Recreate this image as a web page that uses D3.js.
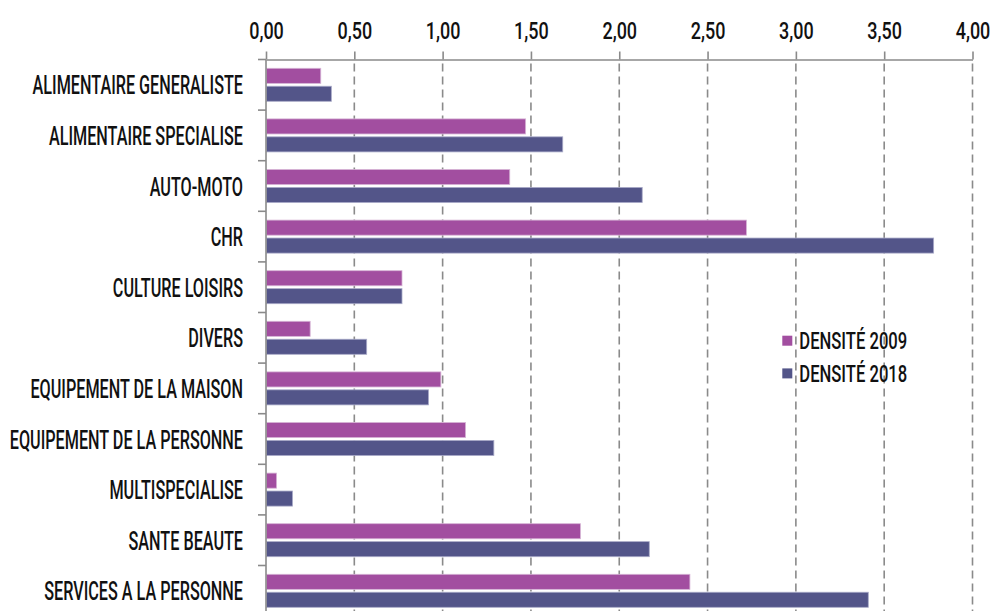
<!DOCTYPE html>
<html><head><meta charset="utf-8">
<script src="https://cdn.jsdelivr.net/npm/d3@7"></script>
<style>body{margin:0;background:#fff} svg{display:block}</style>
</head><body><svg id="c" width="994" height="611"></svg>
<script>
const categories = ["ALIMENTAIRE GENERALISTE","ALIMENTAIRE SPECIALISE","AUTO-MOTO","CHR","CULTURE LOISIRS","DIVERS","EQUIPEMENT DE LA MAISON","EQUIPEMENT DE LA PERSONNE","MULTISPECIALISE","SANTE BEAUTE","SERVICES A LA PERSONNE"];
const density2009 = [0.31,1.47,1.38,2.72,0.77,0.25,0.99,1.13,0.06,1.78,2.40];
const density2018 = [0.37,1.68,2.13,3.78,0.77,0.57,0.92,1.29,0.15,2.17,3.41];
const seriesNames = ["DENSITÉ 2009","DENSITÉ 2018"];
const seriesColors = ["#a24ea0","#535589"];
const seriesStrokes = ["#d6b3d5","#a9aac8"];
const xTicks = [0,0.5,1,1.5,2,2.5,3,3.5,4];

const FONT = "Roboto";
const svg = d3.select("#c");
const axisColor = "#8a8a8a";

const x = d3.scaleLinear().domain([0,4]).range([266,972.5]);
const y = d3.scaleBand().domain(categories).range([59.5, 59.5 + 50.6*categories.length]).padding(0);
const ySub = d3.scaleBand().domain(seriesNames).range([8.8, y.bandwidth()-8.8]).paddingInner(0.16);

const loc = d3.formatLocale({decimal:",", thousands:" ", grouping:[3], currency:["","€"]});
const fmt = loc.format(".2f");

function measure(str, size, weight){
  const t = svg.append("text").attr("font-family",FONT).attr("font-size",size).attr("font-weight",weight).text(str);
  const w = t.node().getComputedTextLength(); t.remove(); return w;
}
const LBL_SIZE = 25, LBL_W = 500;
const sxLabel = 210.6 / measure("ALIMENTAIRE GENERALISTE", LBL_SIZE, LBL_W);
const TK_SIZE = 23;
const sxTick = 34.7 / measure("0,00", TK_SIZE, LBL_W);
const sxLeg = 108 / measure("DENSITÉ 2009", TK_SIZE, LBL_W);

// grid
svg.append("g").selectAll("line").data(xTicks.filter(d=>d>0)).join("line")
  .attr("x1",d=>x(d)).attr("x2",d=>x(d)).attr("y1",59.5).attr("y2",611)
  .attr("stroke",axisColor).attr("stroke-width",1.6).attr("stroke-dasharray","8,5").attr("stroke-dashoffset",-4);

// bars
const rows = categories.map((c,i)=>({cat:c, vals:[density2009[i], density2018[i]]}));
const g = svg.append("g");
rows.forEach(r=>{
  r.vals.forEach((v,j)=>{
    g.append("rect")
      .attr("x", x(0)+0.5)
      .attr("y", y(r.cat) + ySub(seriesNames[j]))
      .attr("width", x(v)-x(0)-0.5)
      .attr("height", ySub.bandwidth())
      .attr("fill", seriesColors[j])
      .attr("stroke", seriesStrokes[j]).attr("stroke-width",0.8);
  });
});

// top axis
const xAxis = d3.axisTop(x).tickValues(xTicks).tickSize(8).tickSizeOuter(0).tickFormat(fmt);
const gx = svg.append("g").attr("transform","translate(0,59.5)").call(xAxis);
gx.select(".domain").attr("stroke",axisColor).attr("stroke-width",1.6);
gx.selectAll(".tick line").attr("stroke",axisColor).attr("stroke-width",1.6);
gx.selectAll(".tick text").attr("font-family",FONT).attr("font-size",TK_SIZE).attr("font-weight",LBL_W)
  .attr("fill","#111").attr("y",-20.3).attr("dy",0)
  .attr("transform",`scale(${sxTick},1)`).attr("text-anchor","middle");

// left axis
svg.append("line").attr("x1",x(0)).attr("x2",x(0)).attr("y1",59.5).attr("y2",611)
  .attr("stroke",axisColor).attr("stroke-width",1.6);
const bounds = categories.map(c=>y(c)).concat([y.range()[1]]);
svg.append("g").selectAll("line").data(bounds).join("line")
  .attr("x1",x(0)-8).attr("x2",x(0)).attr("y1",d=>d).attr("y2",d=>d)
  .attr("stroke",axisColor).attr("stroke-width",1.6);
svg.append("g").selectAll("text").data(categories).join("text")
  .attr("transform",c=>`translate(243,${y(c)+y.bandwidth()/2+9.5}) scale(${sxLabel},1)`)
  .attr("text-anchor","end").attr("font-family",FONT).attr("font-size",LBL_SIZE).attr("font-weight",LBL_W)
  .attr("fill","#111").text(c=>c);

// legend
const leg = svg.append("g");
seriesNames.forEach((s,i)=>{
  const yy = 340.7 + i*32.7;
  leg.append("rect").attr("x",782.3).attr("y",yy-5).attr("width",10).attr("height",10).attr("fill",seriesColors[i]);
  leg.append("text").attr("transform",`translate(799.3,${yy+8.4}) scale(${sxLeg},1)`)
    .attr("font-family",FONT).attr("font-size",TK_SIZE).attr("font-weight",LBL_W).attr("fill","#111").text(s);
});
</script></body></html>
